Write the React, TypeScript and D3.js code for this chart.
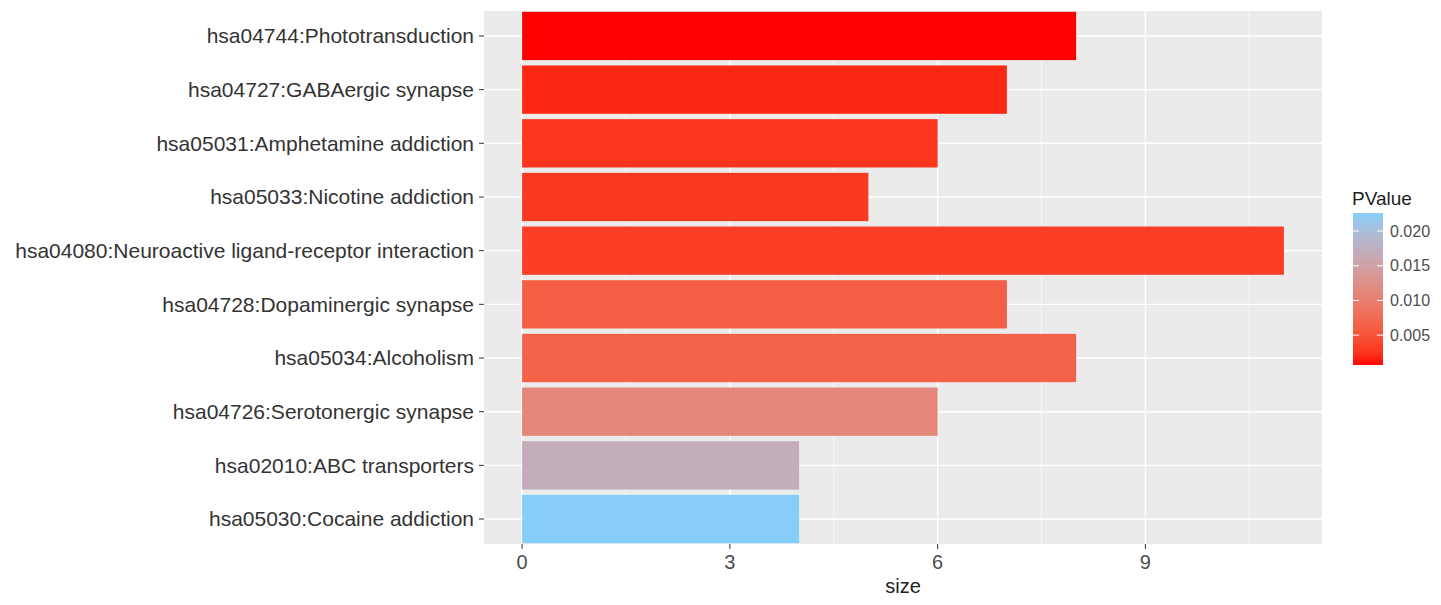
import React from "react";
import * as d3 from "d3";

const categories = [
  "hsa04744:Phototransduction",
  "hsa04727:GABAergic synapse",
  "hsa05031:Amphetamine addiction",
  "hsa05033:Nicotine addiction",
  "hsa04080:Neuroactive ligand-receptor interaction",
  "hsa04728:Dopaminergic synapse",
  "hsa05034:Alcoholism",
  "hsa04726:Serotonergic synapse",
  "hsa02010:ABC transporters",
  "hsa05030:Cocaine addiction",
];
const sizes = [8, 7, 6, 5, 11, 7, 8, 6, 4, 4];
const pvalues = [0.0007, 0.0018, 0.0025, 0.0028, 0.0032, 0.006, 0.0065, 0.011, 0.017, 0.0226];
const xTicks = [0, 3, 6, 9];
const legendTicks = [0.005, 0.01, 0.015, 0.02];

const W = 1441;
const H = 605;
const panel = { left: 484, right: 1322, top: 11, bottom: 544 };
const FONT = "'Liberation Sans', Arial, Helvetica, sans-serif";

export default function App() {
  const x = d3.scaleLinear().domain([-0.55, 11.55]).range([panel.left, panel.right]);
  const step = (panel.bottom - panel.top) / (categories.length - 1 + 0.93);
  const yc = (i: number) => panel.top + step * (0.465 + i);
  const barH = step * 0.9;
  const pMin = d3.min(pvalues)!;
  const pMax = d3.max(pvalues)!;
  const color = d3
    .scaleLinear<string>()
    .domain([pMin, pMax])
    .range(["#FF0000", "#87CEFA"])
    .interpolate(d3.interpolateLab);

  const minor = xTicks.slice(0, -1).map((t, i) => (t + xTicks[i + 1]) / 2).concat([10.5]);

  // legend
  const lg = { x: 1353, w: 30, top: 213, bottom: 365 };
  const ly = d3.scaleLinear().domain([pMin, pMax]).range([lg.bottom, lg.top]);
  const stops = d3.range(0, 21).map((i) => i / 20);

  return (
    <svg width={W} height={H} style={{ display: "block", position: "absolute", left: 0, top: 0 }} fontFamily={FONT}>
      <rect x={0} y={0} width={W} height={H} fill="#fff" />
      <rect
        x={panel.left}
        y={panel.top}
        width={panel.right - panel.left}
        height={panel.bottom - panel.top}
        fill="#EBEBEB"
      />
      {minor.map((t) => (
        <line key={"m" + t} x1={x(t)} x2={x(t)} y1={panel.top} y2={panel.bottom} stroke="#fff" strokeWidth={0.7} />
      ))}
      {xTicks.map((t) => (
        <line key={"g" + t} x1={x(t)} x2={x(t)} y1={panel.top} y2={panel.bottom} stroke="#fff" strokeWidth={1.4} />
      ))}
      {categories.map((c, i) => (
        <line key={"h" + i} x1={panel.left} x2={panel.right} y1={yc(i)} y2={yc(i)} stroke="#fff" strokeWidth={1.4} />
      ))}
      {categories.map((c, i) => (
        <rect
          key={"b" + i}
          x={x(0)}
          y={yc(i) - barH / 2}
          width={x(sizes[i]) - x(0)}
          height={barH}
          fill={color(pvalues[i])}
        />
      ))}
      {categories.map((c, i) => (
        <g key={"l" + i}>
          <line x1={panel.left - 5} x2={panel.left} y1={yc(i)} y2={yc(i)} stroke="#333" strokeWidth={1} />
          <text x={panel.left - 10} y={yc(i)} dy="0.35em" textAnchor="end" fontSize={21} fill="#333">
            {c}
          </text>
        </g>
      ))}
      {xTicks.map((t) => (
        <g key={"t" + t}>
          <line x1={x(t)} x2={x(t)} y1={panel.bottom} y2={panel.bottom + 5} stroke="#333" strokeWidth={1} />
          <text x={x(t)} y={569} textAnchor="middle" fontSize={20} fill="#4D4D4D">
            {t}
          </text>
        </g>
      ))}
      <text x={(panel.left + panel.right) / 2} y={593} textAnchor="middle" fontSize={20} fill="#222">
        size
      </text>
      <defs>
        <linearGradient id="pgrad" x1="0" y1="1" x2="0" y2="0">
          {stops.map((s) => (
            <stop key={s} offset={s} stopColor={color(pMin + s * (pMax - pMin))} />
          ))}
        </linearGradient>
      </defs>
      <text x={lg.x - 1} y={205} fontSize={19} fill="#222">
        PValue
      </text>
      <rect x={lg.x} y={lg.top} width={lg.w} height={lg.bottom - lg.top} fill="url(#pgrad)" />
      {legendTicks.map((t) => (
        <g key={"lt" + t}>
          <line x1={lg.x} x2={lg.x + 6} y1={ly(t)} y2={ly(t)} stroke="#fff" strokeWidth={1} />
          <line x1={lg.x + lg.w - 6} x2={lg.x + lg.w} y1={ly(t)} y2={ly(t)} stroke="#fff" strokeWidth={1} />
          <text x={lg.x + lg.w + 7} y={ly(t)} dy="0.35em" fontSize={16} fill="#4D4D4D">
            {t.toFixed(3)}
          </text>
        </g>
      ))}
    </svg>
  );
}
